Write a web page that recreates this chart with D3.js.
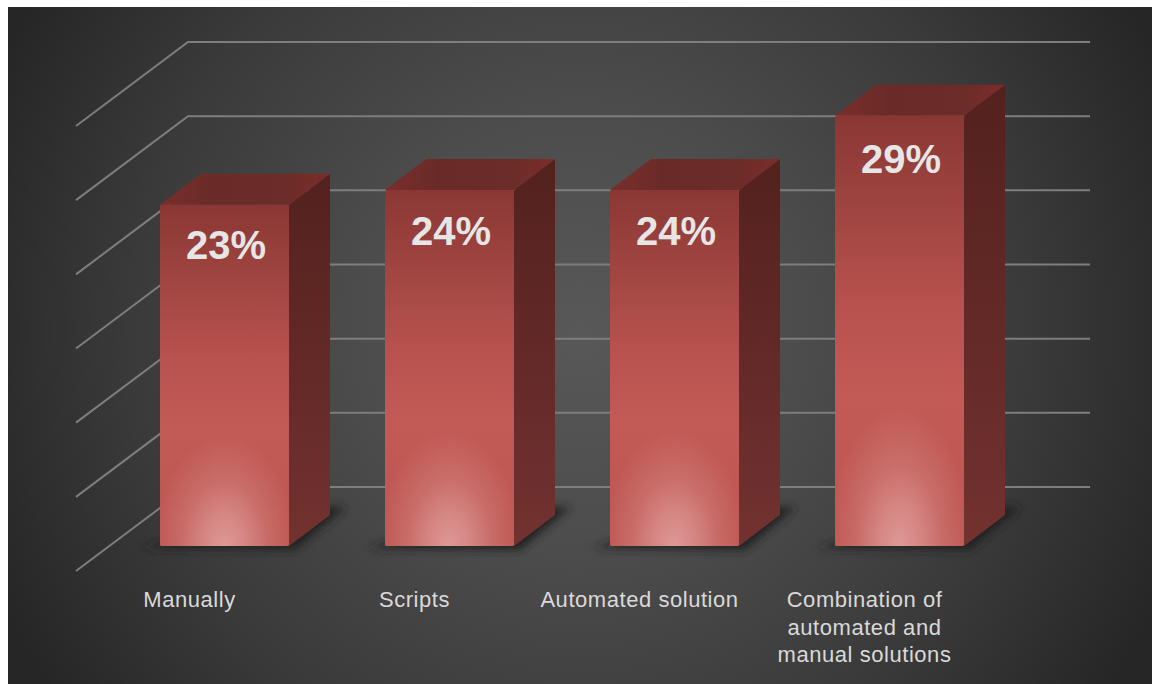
<!DOCTYPE html>
<html>
<head>
<meta charset="utf-8">
<script src="https://cdn.jsdelivr.net/npm/d3@7"></script>
<style>
  html, body { margin: 0; padding: 0; background: #fff; }
  svg { display: block; }
  text { font-family: "Liberation Sans", Arial, sans-serif; }
</style>
</head>
<body>
<div id="chart"></div>
<script>
const categories = ["Manually", "Scripts", "Automated solution", "Combination of automated and manual solutions"];
const categoryLines = [["Manually"], ["Scripts"], ["Automated solution"], ["Combination of", "automated and", "manual solutions"]];
const values = [23, 24, 24, 29];
const gridTicks = [0, 5, 10, 15, 20, 25, 30];

const W = 1152, H = 684;
const svg = d3.select("#chart").append("svg").attr("width", W).attr("height", H);
const defs = svg.append("defs");

// Value axis shared by every depth plane; planes differ only by an offset.
const rise = d3.scaleLinear().domain([0, 30]).range([0, 445]);
const x = d3.scaleBand().domain(categories).range([160, 964]).paddingInner(96 / 225).paddingOuter(0);
// Baselines of the percentage labels, which track the bar tops a little loosely
const labelBaseline = d3.scaleLinear().domain([23, 29]).range([259, 173]);

const wallFloorY = 487, wallLeftX = 188, wallRightX = 1090;
const frontFloorY = 571, frontLeftX = 76;
const barFloorY = 546, barDepthX = 41, barDepthY = 31;

// Backdrop
const bg = defs.append("radialGradient").attr("id", "bg")
  .attr("gradientUnits", "userSpaceOnUse")
  .attr("cx", 580).attr("cy", 330).attr("r", 640);
[[0, "#585858"], [0.35, "#4c4c4c"], [0.7, "#3a3a3a"], [1, "#262626"]].forEach(([o, c]) =>
  bg.append("stop").attr("offset", o).attr("stop-color", c));

// Front face: base tone darkening towards the top
const frontGrad = defs.append("linearGradient").attr("id", "barFront")
  .attr("x1", 0).attr("y1", 0).attr("x2", 0).attr("y2", 1);
[[0, "#8a3734"], [0.22, "#a04541"], [0.45, "#b8524e"], [0.65, "#c25b56"], [1, "#bd5550"]]
  .forEach(([o, c]) => frontGrad.append("stop").attr("offset", o).attr("stop-color", c));

// Front face: pale glow pooled at the foot of the bar
const glowGrad = defs.append("radialGradient").attr("id", "barGlow")
  .attr("cx", 0.5).attr("cy", 1).attr("r", 1)
  .attr("gradientTransform", "translate(0.5 1) scale(0.56 0.32) translate(-0.5 -1)");
[[0, 1], [0.3, 0.72], [0.6, 0.32], [1, 0]]
  .forEach(([o, a]) => glowGrad.append("stop").attr("offset", o).attr("stop-color", "#de9896").attr("stop-opacity", a));

const sideGrad = defs.append("linearGradient").attr("id", "barSide").attr("x1", 0).attr("y1", 0).attr("x2", 0).attr("y2", 1);
[[0, "#53211e"], [1, "#723230"]].forEach(([o, c]) => sideGrad.append("stop").attr("offset", o).attr("stop-color", c));

const capGrad = defs.append("linearGradient").attr("id", "barTop").attr("x1", 0).attr("y1", 0).attr("x2", 1).attr("y2", 0);
[[0, "#7a2e2b"], [0.3, "#6a2b28"], [0.75, "#6c2c29"], [1, "#7c2d2a"]].forEach(([o, c]) => capGrad.append("stop").attr("offset", o).attr("stop-color", c));

defs.append("filter").attr("id", "soft").attr("x", "-20%").attr("y", "-50%").attr("width", "140%").attr("height", "200%")
  .append("feGaussianBlur").attr("stdDeviation", 4);

svg.append("rect").attr("x", 8).attr("y", 7).attr("width", W - 8).attr("height", H - 7).attr("fill", "url(#bg)");

// Gridlines: along the left wall, then across the back wall
const line = d3.line();
svg.append("g").selectAll("path").data(gridTicks).join("path")
  .attr("d", t => line([
    [frontLeftX, frontFloorY - rise(t)],
    [wallLeftX, wallFloorY - rise(t)],
    [wallRightX, wallFloorY - rise(t)]
  ]))
  .attr("fill", "none").attr("stroke", "#7e7e7e").attr("stroke-width", 2);

// Cast shadows on the floor
svg.append("g").selectAll("path").data(categories).join("path")
  .attr("d", c => line([
    [x(c) - 18, barFloorY + 2],
    [x(c) + x.bandwidth() + 6, barFloorY + 4],
    [x(c) + x.bandwidth() + barDepthX + 16, barFloorY - barDepthY - 8],
    [x(c) + x.bandwidth() + barDepthX - 10, barFloorY - barDepthY - 8],
    [x(c) + 20, barFloorY - 8]
  ]) + "Z")
  .attr("fill", "#222222").attr("filter", "url(#soft)");

// Bars
const bars = svg.append("g").selectAll("g").data(categories).join("g");
const topY = i => barFloorY - rise(values[i]);

bars.append("path")
  .attr("d", (c, i) => line([
    [x(c) + x.bandwidth(), topY(i)],
    [x(c) + x.bandwidth() + barDepthX, topY(i) - barDepthY],
    [x(c) + x.bandwidth() + barDepthX, barFloorY - barDepthY],
    [x(c) + x.bandwidth(), barFloorY]
  ]) + "Z")
  .attr("fill", "url(#barSide)");

bars.append("path")
  .attr("d", (c, i) => line([
    [x(c), topY(i)],
    [x(c) + barDepthX, topY(i) - barDepthY],
    [x(c) + x.bandwidth() + barDepthX, topY(i) - barDepthY],
    [x(c) + x.bandwidth(), topY(i)]
  ]) + "Z")
  .attr("fill", "url(#barTop)");

["url(#barFront)", "url(#barGlow)"].forEach(fill => {
  bars.append("rect")
    .attr("x", c => x(c))
    .attr("y", (c, i) => topY(i))
    .attr("width", x.bandwidth())
    .attr("height", (c, i) => rise(values[i]))
    .attr("rx", 1.5)
    .attr("fill", fill);
});

// Value labels inside the front faces
bars.append("text")
  .attr("x", c => x(c) + x.bandwidth() / 2 + 1.5)
  .attr("y", (c, i) => labelBaseline(values[i]))
  .attr("text-anchor", "middle")
  .attr("font-size", 40)
  .attr("font-weight", "bold")
  .attr("fill", "#e6e6e6")
  .text((c, i) => values[i] + "%");

// Category labels sit left of their bars
const labels = svg.append("g").selectAll("text").data(categories).join("text")
  .attr("text-anchor", "middle")
  .attr("font-size", 22)
  .attr("letter-spacing", 0.55)
  .attr("fill", "#d9d9d9");
labels.each(function (c, i) {
  d3.select(this).selectAll("tspan").data(categoryLines[i]).join("tspan")
    .attr("x", x(c) + x.bandwidth() / 2 - 35)
    .attr("y", (d, k) => 607 + k * 27.5)
    .text(d => d);
});
</script>
</body>
</html>
